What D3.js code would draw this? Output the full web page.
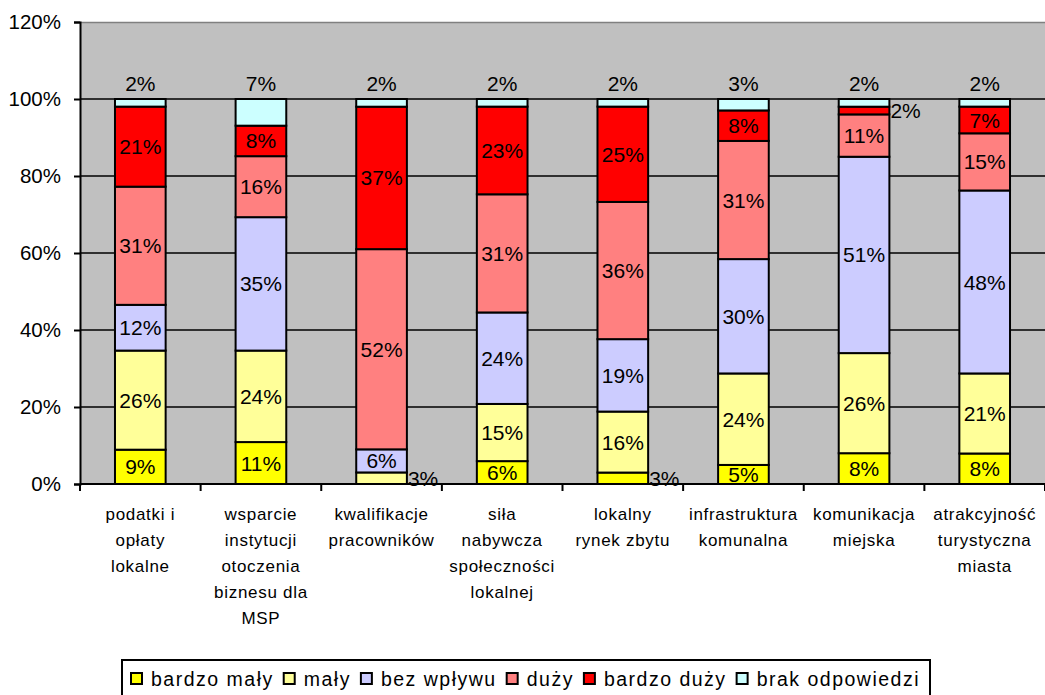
<!DOCTYPE html>
<html>
<head>
<meta charset="utf-8">
<script src="https://cdn.jsdelivr.net/npm/d3@7.9.0/dist/d3.min.js"></script>
<style>
  body { margin: 0; background: #fff; }
  svg { font-family: "Liberation Sans", Arial, sans-serif; }
</style>
</head>
<body>
<svg width="1045" height="695"></svg>
<script>
// categories (label lines) and series
const categories = [
  "podatki i|opłaty|lokalne",
  "wsparcie|instytucji|otoczenia|biznesu dla|MSP",
  "kwalifikacje|pracowników",
  "siła|nabywcza|społeczności|lokalnej",
  "lokalny|rynek zbytu",
  "infrastruktura|komunalna",
  "komunikacja|miejska",
  "atrakcyjność|turystyczna|miasta"
];
const seriesNames = ["bardzo mały", "mały", "bez wpływu", "duży", "bardzo duży", "brak odpowiedzi"];
const seriesColors = ["#ffff00", "#ffff99", "#ccccff", "#ff8080", "#ff0000", "#ccffff"];

const bardzoMaly = [9, 11, 0, 6, 3, 5, 8, 8];
const maly       = [26, 24, 3, 15, 16, 24, 26, 21];
const bezWplywu  = [12, 35, 6, 24, 19, 30, 51, 48];
const duzy       = [31, 16, 52, 31, 36, 31, 11, 15];
const bardzoDuzy = [21, 8, 37, 23, 25, 8, 2, 7];
const brak       = [2, 7, 2, 2, 2, 3, 2, 2];

const yTicks = [0, 20, 40, 60, 80, 100, 120];

const allSeries = [bardzoMaly, maly, bezWplywu, duzy, bardzoDuzy, brak];

// rows for the stack
let rows = categories.map((c, i) => {
  let row = { cat: c };
  seriesNames.forEach((s, j) => { row[s] = allSeries[j][i]; });
  return row;
});

let stacked = d3.stack().keys(seriesNames).offset(d3.stackOffsetExpand)(rows);

const svg = d3.select('svg');
const plotLeft = 80, plotRight = 1045, plotTop = 22, plotBottom = 484;

let x = d3.scaleBand().domain(categories).range([plotLeft, plotRight]).paddingInner(0.58).paddingOuter(0.29);
let y = d3.scaleLinear().domain([0, 120]).range([plotBottom, plotTop]);

// plot area
svg.append('rect')
  .attr('x', plotLeft).attr('y', plotTop)
  .attr('width', plotRight - plotLeft).attr('height', plotBottom - plotTop)
  .attr('fill', '#c0c0c0');
svg.append('line')
  .attr('x1', plotLeft).attr('x2', plotRight).attr('y1', plotTop + 0.5).attr('y2', plotTop + 0.5)
  .attr('stroke', '#808080').attr('stroke-width', 1.5);

// gridlines
svg.append('g')
  .selectAll('line')
  .data(yTicks.filter(t => t > 0 && t < 120))
  .join('line')
  .attr('x1', plotLeft).attr('x2', plotRight)
  .attr('y1', d => y(d)).attr('y2', d => y(d))
  .attr('stroke', '#000').attr('stroke-width', 1.5);

// y axis
let yAxis = svg.append('g')
  .attr('transform', `translate(${plotLeft},0)`)
  .call(d3.axisLeft(y).tickValues(yTicks).tickFormat(d => d + '%').tickSize(6).tickPadding(13));
yAxis.select('.domain').attr('stroke', '#000').attr('stroke-width', 2);
yAxis.selectAll('.tick line').attr('stroke', '#000').attr('stroke-width', 2);
yAxis.selectAll('.tick text')
  .attr('font-size', 20.5).attr('fill', '#000')
  .attr('font-family', '"Liberation Sans", Arial, sans-serif');

// bars
let groups = svg.append('g')
  .selectAll('g')
  .data(stacked)
  .join('g')
  .attr('fill', (d, i) => seriesColors[i]);

groups.selectAll('rect')
  .data(d => d.filter(p => p[1] - p[0] > 0))
  .join('rect')
  .attr('x', d => x(d.data.cat))
  .attr('width', x.bandwidth())
  .attr('y', d => y(d[1] * 100))
  .attr('height', d => y(d[0] * 100) - y(d[1] * 100))
  .attr('stroke', '#000')
  .attr('stroke-width', 2);

// x axis
let xAxisG = svg.append('g');
xAxisG.append('line')
  .attr('x1', plotLeft).attr('x2', plotRight).attr('y1', plotBottom).attr('y2', plotBottom)
  .attr('stroke', '#000').attr('stroke-width', 2);
xAxisG.selectAll('line.tick')
  .data(d3.range(categories.length + 1))
  .join('line')
  .attr('class', 'tick')
  .attr('x1', i => plotLeft + i * x.step())
  .attr('x2', i => plotLeft + i * x.step())
  .attr('y1', plotBottom).attr('y2', plotBottom + 7)
  .attr('stroke', '#000').attr('stroke-width', 2);

// category labels
categories.forEach(c => {
  let t = svg.append('text')
    .attr('text-anchor', 'middle')
    .attr('font-size', 17)
    .attr('letter-spacing', 0.7)
    .attr('fill', '#000');
  c.split('|').forEach((line, k) => {
    t.append('tspan')
      .attr('x', x(c) + x.bandwidth() / 2)
      .attr('y', 520 + k * 26)
      .text(line);
  });
});

// data labels
stacked.forEach((s, j) => {
  s.forEach((p, i) => {
    let v = allSeries[j][i];
    if (v === 0) return;
    let cx = x(p.data.cat) + x.bandwidth() / 2;
    let cy = y((p[0] + p[1]) / 2 * 100);
    let anchor = 'middle';
    if (j === seriesNames.length - 1) {
      // brak odpowiedzi goes above the bar
      cy = y(100) - 16;
    } else if (v <= 3) {
      cx = x(p.data.cat) + x.bandwidth() + 1;
      anchor = 'start';
    }
    svg.append('text')
      .attr('x', cx)
      .attr('y', cy)
      .attr('dy', '0.36em')
      .attr('text-anchor', anchor)
      .attr('font-size', 21)
      .attr('fill', '#000')
      .text(v + '%');
  });
});

// legend
let legend = svg.append('g');
legend.append('rect')
  .attr('x', 122).attr('y', 660)
  .attr('width', 808).attr('height', 45)
  .attr('fill', '#fff').attr('stroke', '#000').attr('stroke-width', 2);

let lx = 131;
seriesNames.forEach((s, i) => {
  legend.append('rect')
    .attr('x', lx).attr('y', 673)
    .attr('width', 11).attr('height', 11)
    .attr('fill', seriesColors[i])
    .attr('stroke', '#000').attr('stroke-width', 2);
  let t = legend.append('text')
    .attr('x', lx + 20)
    .attr('y', 686)
    .attr('font-size', 19.5)
    .attr('letter-spacing', 1.5)
    .attr('fill', '#000')
    .text(s);
  lx += 20 + t.node().getComputedTextLength() + 10;
});
</script>
</body>
</html>
